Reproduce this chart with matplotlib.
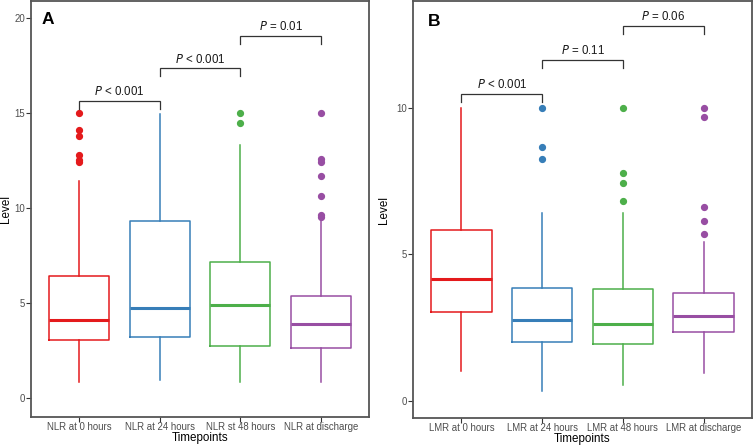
import matplotlib
matplotlib.use("Agg")
import matplotlib.pyplot as plt

plt.rcParams['font.family'] = ['Liberation Sans', 'DejaVu Sans']

COLORS = ["#E41A1C", "#377EB8", "#4DAF4A", "#984EA3"]

# Panel A: NLR
nlr_labels = ["NLR at 0 hours", "NLR at 24 hours", "NLR st 48 hours", "NLR at discharge"]
nlr_whislo = [0.83, 0.95, 0.86, 0.83]
nlr_q1 = [3.04, 3.23, 2.72, 2.65]
nlr_med = [4.12, 4.72, 4.9, 3.9]
nlr_q3 = [6.44, 9.3, 7.14, 5.37]
nlr_whishi = [11.4, 14.95, 13.3, 9.37]
nlr_fliers = [
    [15.0, 14.1, 13.8, 12.8, 12.55, 12.45],
    [],
    [15.0, 14.5],
    [15.0, 12.6, 12.4, 11.7, 10.65, 9.63, 9.55],
]
nlr_pvals = ["< 0.001", "< 0.001", "= 0.01"]
nlr_brackets = [15.65, 17.35, 19.05]

# Panel B: LMR
lmr_labels = ["LMR at 0 hours", "LMR at 24 hours", "LMR at 48 hours", "LMR at discharge"]
lmr_whislo = [1.03, 0.35, 0.56, 0.96]
lmr_q1 = [3.03, 2.0, 1.93, 2.35]
lmr_med = [4.16, 2.75, 2.63, 2.9]
lmr_q3 = [5.84, 3.85, 3.82, 3.67]
lmr_whishi = [10.0, 6.4, 6.4, 5.42]
lmr_fliers = [
    [],
    [10.0, 8.68, 8.25],
    [10.0, 7.79, 7.44, 6.84],
    [10.0, 9.68, 6.61, 6.15, 5.69],
]
lmr_pvals = ["< 0.001", "= 0.11", "= 0.06"]
lmr_brackets = [10.47, 11.63, 12.79]


def draw_panel(ax, letter, labels, whislo, q1, med, q3, whishi, fliers,
               pvals, brackets, ylim, yticks, tick_len, ylab_x, letter_xy):
    stats = []
    for i in range(len(labels)):
        stats.append(dict(whislo=whislo[i], q1=q1[i], med=med[i], q3=q3[i],
                          whishi=whishi[i], fliers=fliers[i], label=labels[i]))
    positions = list(range(1, len(labels) + 1))
    art = ax.bxp(stats, positions=positions, widths=0.75, showcaps=False,
                 patch_artist=False)
    for i, c in enumerate(COLORS):
        art['boxes'][i].set(color=c, linewidth=1.1)
        art['medians'][i].set(color=c, linewidth=2.2)
        for w in art['whiskers'][2 * i:2 * i + 2]:
            w.set(color=c, linewidth=1.1)
        art['fliers'][i].set(marker='o', markerfacecolor=c, markeredgecolor=c,
                             markersize=4.2, linestyle='none')

    # significance brackets
    for i, (p, y) in enumerate(zip(pvals, brackets)):
        x1, x2 = positions[i], positions[i + 1]
        ax.plot([x1, x1, x2, x2], [y - tick_len, y, y, y - tick_len],
                color="#333333", linewidth=0.9, solid_joinstyle='miter')
        ax.text((x1 + x2) / 2, y + tick_len * 0.35, r"$\it{P}$ " + p,
                ha='center', va='bottom', fontsize=8.3, color="#1a1a1a")

    ax.set_xlim(0.4, 4.6)
    ax.set_ylim(*ylim)
    ax.set_yticks(yticks)
    ax.set_xticks(positions)
    ax.set_xticklabels(labels)
    ax.tick_params(axis='both', labelsize=6.9, labelcolor="#4D4D4D",
                   color="#333333", length=3.3, width=0.8, pad=1)
    ax.tick_params(axis='x', pad=0)
    for s in ax.spines.values():
        s.set_color("#555555")
        s.set_linewidth(1.3)
    ax.set_xlabel("Timepoints", fontsize=8.4)
    ax.set_ylabel("Level", fontsize=8.4)
    ax.xaxis.set_label_coords(0.5, -0.037)
    ax.yaxis.set_label_coords(ylab_x, 0.5)
    ax.text(letter_xy[0], letter_xy[1], letter, transform=ax.transAxes,
            fontsize=12.5, fontweight='bold', ha='left', va='top')


fig = plt.figure(figsize=(7.53, 4.48), dpi=100)
W, H = 753, 448
ax_a = fig.add_axes([31 / W, (H - 417) / H, (369 - 31) / W, (417 - 1) / H])
ax_b = fig.add_axes([413 / W, (H - 418) / H, (752 - 413) / W, (418 - 1) / H])

draw_panel(ax_a, "A", nlr_labels, nlr_whislo, nlr_q1, nlr_med, nlr_q3,
           nlr_whishi, nlr_fliers, nlr_pvals, nlr_brackets,
           (-1.0, 20.9), [0, 5, 10, 15, 20], 0.42, -0.056, (0.031, 0.973))
draw_panel(ax_b, "B", lmr_labels, lmr_whislo, lmr_q1, lmr_med, lmr_q3,
           lmr_whishi, lmr_fliers, lmr_pvals, lmr_brackets,
           (-0.58, 13.65), [0, 5, 10], 0.28, -0.068, (0.043, 0.969))

fig.savefig("out.png", dpi=100)
